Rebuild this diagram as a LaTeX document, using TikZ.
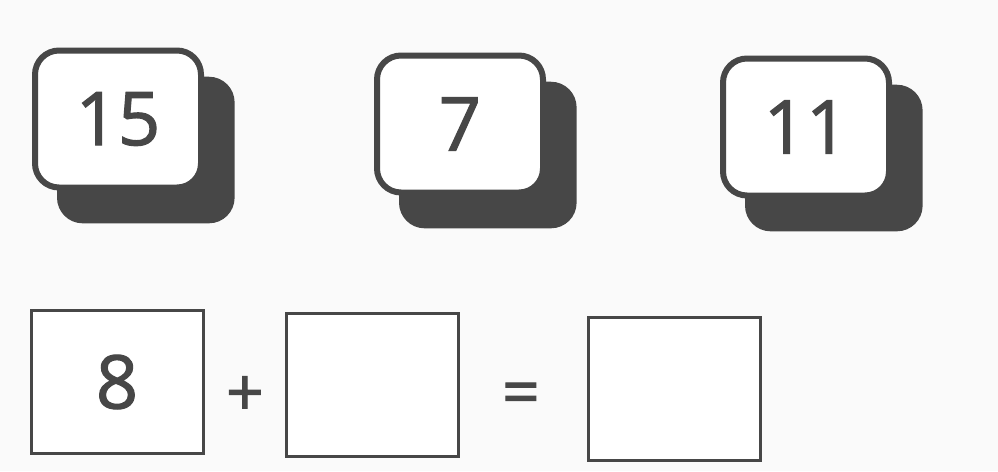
\documentclass[tikz,border=0pt]{standalone}
\usepackage{fontspec}
\setmainfont{Open Sans}
\newfontfamily\digitfont{Open Sans}[FakeBold=1.6]
\usetikzlibrary{shadows}
\definecolor{ink}{HTML}{474747}
\definecolor{paper}{HTML}{FAFAFA}

\begin{document}
\begin{tikzpicture}[x=1pt, y=-1pt, thick,
  card/.style={draw=ink, line width=6pt, fill=white, rounded corners=24pt,
    minimum width=166pt, minimum height=137pt, text=ink,
    font=\digitfont\fontsize{74}{74}\selectfont,
    drop shadow={shadow xshift=26pt, shadow yshift=-29pt, shadow scale=1.07, fill=ink, opacity=1}},
  blank/.style={draw=ink, line width=3pt, fill=white,
    minimum width=172pt, minimum height=143pt, text=ink,
    font=\digitfont\fontsize{74}{74}\selectfont},
  sign/.style={text=ink, font=\digitfont\fontsize{66}{66}\selectfont}]

% background
\fill[paper] (0,0) rectangle (998,471);

% number cards
\node[card] (c15) at (118,119) {15};
\node[card] (c7) at (460,124) {7};
\node[card] (c11) at (806,127) {11};

% sum boxes
\node[blank] (b1) at (117,382) {8};
\node[sign] (plus) at (245,396) {+};
\node[blank] (b2) at (372,385) {};
\node[sign] (eq) at (521,399) {=};
\node[blank] (b3) at (674,389) {};

\end{tikzpicture}
\end{document}
